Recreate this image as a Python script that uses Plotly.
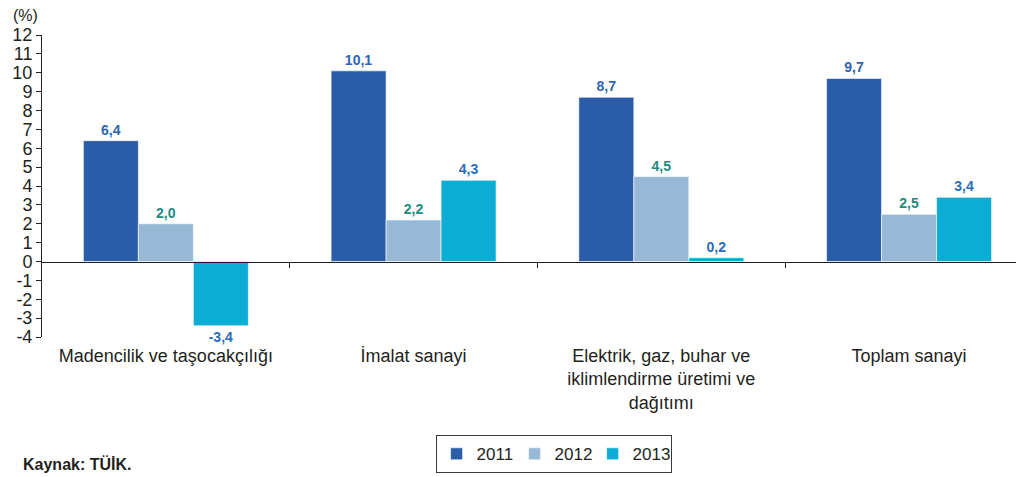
import plotly.graph_objects as go

categories = ["Madencilik ve taşocakçılığı", "İmalat sanayi",
              "Elektrik, gaz, buhar ve<br>iklimlendirme üretimi ve<br>dağıtımı",
              "Toplam sanayi"]
years = ["2011", "2012", "2013"]
v2011 = [6.4, 10.1, 8.7, 9.7]
v2012 = [2.0, 2.2, 4.5, 2.5]
v2013 = [-3.4, 4.3, 0.2, 3.4]
y_ticks = list(range(-4, 13))

bar_colors = ["#2A5CA8", "#98B9D6", "#0BADD5"]
label_colors = ["#2E64B0", "#1F8A80", "#2A6DBB"]
FONT = "Liberation Sans, Arial, sans-serif"

xpos = list(range(len(categories)))
fig = go.Figure()
for name, vals, bc, lc in zip(years, [v2011, v2012, v2013], bar_colors, label_colors):
    fig.add_trace(go.Bar(
        x=xpos, y=vals, name=name,
        marker=dict(color=bc, line=dict(color="white", width=0.6)),
        text=[f"{v:.1f}".replace(".", ",") for v in vals],
        textposition="outside", cliponaxis=False,
        textfont=dict(family=FONT, size=14, color=lc, weight="bold"),
    ))

# page body has an 8px margin, so the figure is 8px smaller and offset
fig.update_layout(
    width=1016, height=469,
    margin=dict(l=34, r=0, t=27, b=140, autoexpand=False),
    plot_bgcolor="white", paper_bgcolor="white",
    barmode="group", bargap=0.334, bargroupgap=0,
    font=dict(family=FONT, color="#231F20"),
    showlegend=True,
    legend=dict(orientation="h", xref="container", yref="container",
                x=0.537, xanchor="center", y=0.008, yanchor="bottom",
                bordercolor="#3a3a3a", borderwidth=1, font=dict(size=17),
                itemwidth=30, tracegroupgap=0, entrywidth=33, entrywidthmode="pixels"),
    xaxis=dict(range=[-0.5, 3.464], tickmode="array", tickvals=xpos, ticktext=categories,
               showline=False, showgrid=False, zeroline=False, ticks="",
               tickfont=dict(size=18), ticklabelstandoff=6, automargin=False),
    xaxis2=dict(range=[-0.5, 3.464], overlaying="x", anchor="free", position=0.25,
                tickvals=[0.5, 1.5, 2.5], showticklabels=False, ticks="outside",
                ticklen=5, tickcolor="#231F20", showline=True, linecolor="#231F20",
                linewidth=1, showgrid=False, zeroline=False, side="bottom"),
    yaxis=dict(range=[-4, 12], tickmode="array", tickvals=y_ticks,
               ticktext=[str(v) for v in y_ticks], showgrid=False, zeroline=False,
               showline=True, linecolor="#231F20", linewidth=1, ticks="outside",
               ticklen=5, tickcolor="#231F20", tickfont=dict(size=18), automargin=False),
    annotations=[
        dict(text="(%)", xref="paper", yref="paper", x=-0.032, y=1.066,
             xanchor="left", yanchor="middle", showarrow=False, font=dict(size=16)),
        dict(text="<b>Kaynak: TÜİK.</b>", xref="paper", yref="paper", x=-0.0214, y=-0.42,
             xanchor="left", yanchor="middle", showarrow=False, font=dict(size=16)),
    ],
)
# dummy trace to activate xaxis2 (the zero-line axis with category boundary ticks)
fig.add_trace(go.Scatter(x=[0], y=[0], xaxis="x2", mode="markers",
                         marker=dict(opacity=0), showlegend=False, hoverinfo="skip"))

fig.write_html("out.html")
